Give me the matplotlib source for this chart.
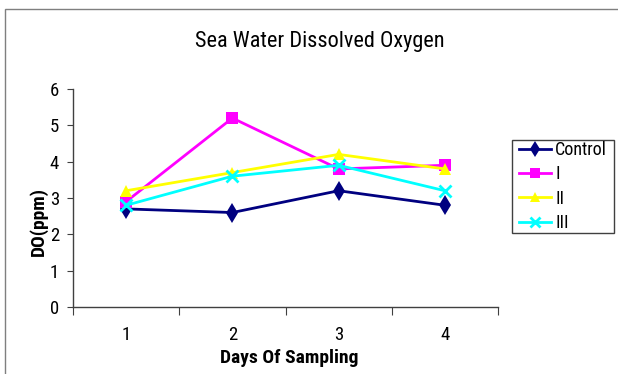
import matplotlib
matplotlib.use("Agg")
import matplotlib.pyplot as plt
from matplotlib.patches import Rectangle

days = [1, 2, 3, 4]
day_labels = ["1", "2", "3", "4"]
series_names = ["Control", "I", "II", "III"]
control = [2.7, 2.6, 3.2, 2.8]
group_i = [2.9, 5.2, 3.8, 3.9]
group_ii = [3.2, 3.7, 4.2, 3.8]
group_iii = [2.8, 3.6, 3.9, 3.2]
y_ticks = [0, 1, 2, 3, 4, 5, 6]

plt.rcParams["font.family"] = ["Arial Narrow", "Liberation Sans Narrow", "Roboto Condensed",
                               "PT Sans Narrow", "Archivo Narrow", "Liberation Sans",
                               "DejaVu Sans"]

W, H = 618, 374
fig = plt.figure(figsize=(W / 100, H / 100), dpi=100)
fig.patch.set_facecolor("white")


def fx(px):
    return px / W


def fy(py):
    return (H - py) / H


# outer frame of the chart area
fig.patches.append(Rectangle((fx(5), -0.2), 1.2, 0.2 + fy(9),
                             transform=fig.transFigure, fill=False,
                             edgecolor="#7f7f7f", linewidth=1.0))

ax = fig.add_axes([fx(73), fy(307), fx(498) - fx(73), fy(89) - fy(307)])

styles = [
    (control, "#000080", "d", 10, 0),
    (group_i, "#FF00FF", "s", 8, 0),
    (group_ii, "#FFFF00", "^", 9, 0),
    (group_iii, "#00FFFF", "x", 8, 2),
]
for (vals, color, marker, ms, mew), name in zip(styles, series_names):
    ax.plot(days, vals, color=color, linewidth=2.0, marker=marker,
            markersize=ms, markeredgewidth=mew, label=name)

ax.set_xlim(0.5, 4.5)
ax.set_ylim(0, 6)
ax.set_yticks(y_ticks)
ax.set_yticklabels([str(v) for v in y_ticks], fontsize=13.5)
ax.set_xticks([0.5, 1.5, 2.5, 3.5, 4.5])
ax.set_xticklabels([])
ax.set_xticks(days, minor=True)
ax.set_xticklabels(day_labels, minor=True, fontsize=13.5)
ax.tick_params(axis="x", which="minor", length=0, pad=14)
ax.tick_params(axis="x", which="major", length=6, direction="out", color="#404040")
ax.tick_params(axis="y", length=4, direction="out", color="#404040", pad=6)

for side in ("top", "right"):
    ax.spines[side].set_visible(False)
for side in ("left", "bottom"):
    ax.spines[side].set_color("#404040")
    ax.spines[side].set_linewidth(1.0)

fig.text(fx(320), fy(42), "Sea Water Dissolved Oxygen", fontsize=16,
         ha="center", va="center")
fig.text(fx(289), fy(358), "Days Of Sampling", fontsize=14, fontweight="bold",
         ha="center", va="center")
fig.text(fx(38), fy(222), "DO(ppm)", fontsize=14, fontweight="bold",
         ha="center", va="center", rotation=90)

# legend entries, with a plain box drawn around them
leg = fig.legend(loc="center left", bbox_to_anchor=(fx(519), fy(186.5)),
                 fontsize=13, frameon=False, handlelength=1.75,
                 labelspacing=0.35, handletextpad=0.25, borderpad=0,
                 borderaxespad=0, markerscale=0.85)
fig.patches.append(Rectangle((fx(512), fy(233)), fx(614) - fx(512), fy(140) - fy(233),
                             transform=fig.transFigure, fill=False,
                             edgecolor="#404040", linewidth=1.0))

fig.savefig("out.png", dpi=100)
